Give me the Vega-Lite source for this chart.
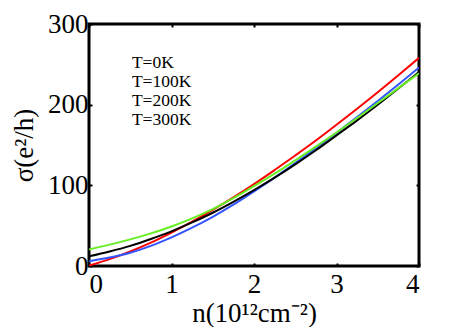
{
  "$schema": "https://vega.github.io/schema/vega-lite/v6.json",
  "width": 330,
  "height": 242,
  "autosize": {"type": "none"},
  "padding": {"left": 89, "top": 24, "right": 44, "bottom": 61},
  "background": "white",
  "config": {
    "view": {"stroke": "black", "strokeWidth": 3},
    "font": "Liberation Serif",
    "axis": {
      "domain": false,
      "grid": false,
      "tickSize": -3,
      "tickColor": "black",
      "tickWidth": 2,
      "labelFont": "Liberation Serif",
      "labelFontSize": 27,
      "labelColor": "black",
      "titleFont": "Liberation Serif",
      "titleFontSize": 27,
      "titleFontWeight": "normal",
      "titleColor": "black"
    }
  },
  "datasets": {
    "curves": [
      {"n": 0, "sigma": 0.5, "T": "T=0K"},
      {"n": 0.25, "sigma": 8.5, "T": "T=0K"},
      {"n": 0.5, "sigma": 18, "T": "T=0K"},
      {"n": 0.75, "sigma": 29, "T": "T=0K"},
      {"n": 1, "sigma": 41.5, "T": "T=0K"},
      {"n": 1.25, "sigma": 55, "T": "T=0K"},
      {"n": 1.5, "sigma": 69.5, "T": "T=0K"},
      {"n": 1.75, "sigma": 85, "T": "T=0K"},
      {"n": 2, "sigma": 101.5, "T": "T=0K"},
      {"n": 2.25, "sigma": 119, "T": "T=0K"},
      {"n": 2.5, "sigma": 137, "T": "T=0K"},
      {"n": 2.75, "sigma": 155.5, "T": "T=0K"},
      {"n": 3, "sigma": 175, "T": "T=0K"},
      {"n": 3.25, "sigma": 195, "T": "T=0K"},
      {"n": 3.5, "sigma": 215.5, "T": "T=0K"},
      {"n": 3.75, "sigma": 236.5, "T": "T=0K"},
      {"n": 4, "sigma": 258, "T": "T=0K"},
      {"n": 0, "sigma": 6, "T": "T=100K"},
      {"n": 0.25, "sigma": 10.5, "T": "T=100K"},
      {"n": 0.5, "sigma": 16.5, "T": "T=100K"},
      {"n": 0.75, "sigma": 25, "T": "T=100K"},
      {"n": 1, "sigma": 35.5, "T": "T=100K"},
      {"n": 1.25, "sigma": 47.5, "T": "T=100K"},
      {"n": 1.5, "sigma": 61, "T": "T=100K"},
      {"n": 1.75, "sigma": 76, "T": "T=100K"},
      {"n": 2, "sigma": 92.5, "T": "T=100K"},
      {"n": 2.25, "sigma": 109.5, "T": "T=100K"},
      {"n": 2.5, "sigma": 127.5, "T": "T=100K"},
      {"n": 2.75, "sigma": 146, "T": "T=100K"},
      {"n": 3, "sigma": 165, "T": "T=100K"},
      {"n": 3.25, "sigma": 184.5, "T": "T=100K"},
      {"n": 3.5, "sigma": 204.5, "T": "T=100K"},
      {"n": 3.75, "sigma": 225, "T": "T=100K"},
      {"n": 4, "sigma": 246, "T": "T=100K"},
      {"n": 0, "sigma": 12, "T": "T=200K"},
      {"n": 0.25, "sigma": 18, "T": "T=200K"},
      {"n": 0.5, "sigma": 25, "T": "T=200K"},
      {"n": 0.75, "sigma": 33.5, "T": "T=200K"},
      {"n": 1, "sigma": 43, "T": "T=200K"},
      {"n": 1.25, "sigma": 54, "T": "T=200K"},
      {"n": 1.5, "sigma": 66, "T": "T=200K"},
      {"n": 1.75, "sigma": 79.5, "T": "T=200K"},
      {"n": 2, "sigma": 94, "T": "T=200K"},
      {"n": 2.25, "sigma": 109.5, "T": "T=200K"},
      {"n": 2.5, "sigma": 126, "T": "T=200K"},
      {"n": 2.75, "sigma": 143.5, "T": "T=200K"},
      {"n": 3, "sigma": 162, "T": "T=200K"},
      {"n": 3.25, "sigma": 180.5, "T": "T=200K"},
      {"n": 3.5, "sigma": 200, "T": "T=200K"},
      {"n": 3.75, "sigma": 220, "T": "T=200K"},
      {"n": 4, "sigma": 240.5, "T": "T=200K"},
      {"n": 0, "sigma": 20.5, "T": "T=300K"},
      {"n": 0.25, "sigma": 26.5, "T": "T=300K"},
      {"n": 0.5, "sigma": 33, "T": "T=300K"},
      {"n": 0.75, "sigma": 40.5, "T": "T=300K"},
      {"n": 1, "sigma": 49, "T": "T=300K"},
      {"n": 1.25, "sigma": 59, "T": "T=300K"},
      {"n": 1.5, "sigma": 70.5, "T": "T=300K"},
      {"n": 1.75, "sigma": 84, "T": "T=300K"},
      {"n": 2, "sigma": 99, "T": "T=300K"},
      {"n": 2.25, "sigma": 114.5, "T": "T=300K"},
      {"n": 2.5, "sigma": 131, "T": "T=300K"},
      {"n": 2.75, "sigma": 148, "T": "T=300K"},
      {"n": 3, "sigma": 165.5, "T": "T=300K"},
      {"n": 3.25, "sigma": 183.5, "T": "T=300K"},
      {"n": 3.5, "sigma": 202, "T": "T=300K"},
      {"n": 3.75, "sigma": 220.5, "T": "T=300K"},
      {"n": 4, "sigma": 239, "T": "T=300K"}
    ],
    "labels": [
      {"n": 0.52, "sigma": 251.5, "label": "T=0K"},
      {"n": 0.52, "sigma": 228, "label": "T=100K"},
      {"n": 0.52, "sigma": 204.5, "label": "T=200K"},
      {"n": 0.52, "sigma": 181, "label": "T=300K"}
    ]
  },
  "layer": [
    {
      "data": {"name": "curves"},
      "mark": {"type": "line", "strokeWidth": 2, "interpolate": "monotone", "clip": true},
      "encoding": {
        "x": {"field": "n", "type": "quantitative", "scale": {"domain": [0, 4], "nice": false},
              "axis": {"values": [0, 1, 2, 3, 4], "title": "n(10¹²cm⁻²)", "labelPadding": 8, "titlePadding": 3}},
        "y": {"field": "sigma", "type": "quantitative", "scale": {"domain": [0, 300], "nice": false},
              "axis": {"values": [0, 100, 200, 300], "title": "σ(e²/h)", "labelPadding": 4, "titlePadding": 9}},
        "color": {"field": "T", "type": "nominal",
                  "scale": {"domain": ["T=0K", "T=100K", "T=200K", "T=300K"], "range": ["#ff0000", "#3355ff", "#000000", "#66ee22"]},
                  "legend": null}
      }
    },
    {
      "data": {"name": "curves"},
      "mark": {"type": "line", "strokeOpacity": 0},
      "encoding": {
        "x": {"field": "n", "type": "quantitative", "axis": {"orient": "top", "values": [0, 1, 2, 3, 4], "labels": false, "title": null}},
        "y": {"field": "sigma", "type": "quantitative", "axis": {"orient": "right", "values": [0, 100, 200, 300], "labels": false, "title": null}},
        "detail": {"field": "T"}
      }
    },
    {
      "data": {"name": "labels"},
      "mark": {"type": "text", "align": "left", "baseline": "middle", "fontSize": 17.5, "font": "Liberation Serif", "color": "black"},
      "encoding": {
        "x": {"field": "n", "type": "quantitative", "axis": null},
        "y": {"field": "sigma", "type": "quantitative", "axis": null},
        "text": {"field": "label"}
      }
    }
  ],
  "resolve": {"axis": {"x": "independent", "y": "independent"}}
}
